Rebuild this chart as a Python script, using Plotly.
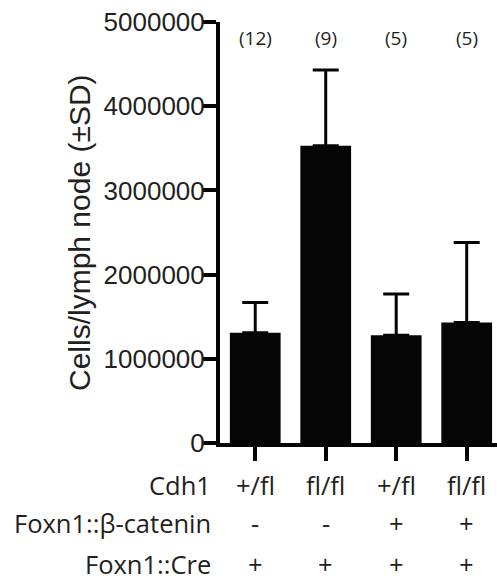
import plotly.graph_objects as go

# ---- data ----
cdh1 = ["+/fl", "fl/fl", "+/fl", "fl/fl"]
catenin = ["-", "-", "+", "+"]
cre = ["+", "+", "+", "+"]
means = [1310000, 3530000, 1280000, 1430000]
sds = [360000, 900000, 490000, 950000]
counts = ["(12)", "(9)", "(5)", "(5)"]
yticks = [0, 1000000, 2000000, 3000000, 4000000, 5000000]
row_labels = ["Cdh1", "Foxn1::\u03b2-catenin", "Foxn1::Cre"]

xpos = list(range(len(means)))

fig = go.Figure()
fig.add_trace(go.Bar(
    x=xpos, y=means,
    marker=dict(color="#050505", line=dict(width=0)),
    error_y=dict(type="data", array=sds, arrayminus=[0] * len(sds),
                 symmetric=False, color="#050505", thickness=3, width=13),
    width=0.72,
))

W, H = 497, 581
L, R, T, B = 220, 0, 22, 138
plot_h = H - T - B
plot_w = W - L - R

def py(pix):
    return (H - B - pix) / plot_h

def px(pix):
    return (pix - L) / plot_w

label_font = dict(family="Open Sans", size=25.5, color="#231f20")
ann = []
# counts on top
for i, c in enumerate(counts):
    ann.append(dict(x=xpos[i], y=py(38), xref="x", yref="paper", text=c,
                    showarrow=False, font=dict(family="Open Sans", size=19, color="#231f20"),
                    xanchor="center", yanchor="middle"))
rows = [cdh1, catenin, cre]
row_y = [485, 523, 564]
for r, vals in enumerate(rows):
    ann.append(dict(x=px(213), y=py(row_y[r]), xref="paper", yref="paper", text=row_labels[r],
                    showarrow=False, font=label_font, xanchor="right", yanchor="middle"))
    for i, v in enumerate(vals):
        ann.append(dict(x=xpos[i], y=py(row_y[r]), xref="x", yref="paper", text=v,
                        showarrow=False, font=label_font, xanchor="center", yanchor="middle"))
# y title
ann.append(dict(x=px(79), y=py(233), xref="paper", yref="paper",
                text="Cells/lymph node (\u00b1SD)", textangle=-90, showarrow=False,
                font=dict(family="Liberation Sans", size=30, color="#231f20"),
                xanchor="center", yanchor="middle"))

fig.update_layout(
    width=W, height=H,
    margin=dict(l=L, r=R, t=T, b=B, pad=0),
    paper_bgcolor="white", plot_bgcolor="white",
    showlegend=False,
    annotations=ann,
    xaxis=dict(range=[-0.5, 3.43], tickvals=xpos, ticktext=[""] * len(xpos),
               showline=True, linecolor="#050505", linewidth=4,
               ticks="outside", ticklen=14, tickwidth=4, tickcolor="#050505",
               showgrid=False, zeroline=False, fixedrange=True),
    yaxis=dict(range=[0, 5000000], tickvals=yticks, ticktext=[str(v) for v in yticks],
               showline=True, linecolor="#050505", linewidth=4,
               ticks="outside", ticklen=14, tickwidth=4, tickcolor="#050505",
               ticklabelstandoff=-8,
               tickfont=dict(family="Liberation Sans", size=26, color="#231f20"),
               showgrid=False, zeroline=False, fixedrange=True),
)

fig.write_html(
    "out.html",
    config={"displayModeBar": False},
    post_script="document.body.style.margin='0';document.body.style.padding='0';"
                "document.body.style.overflow='hidden';",
)
